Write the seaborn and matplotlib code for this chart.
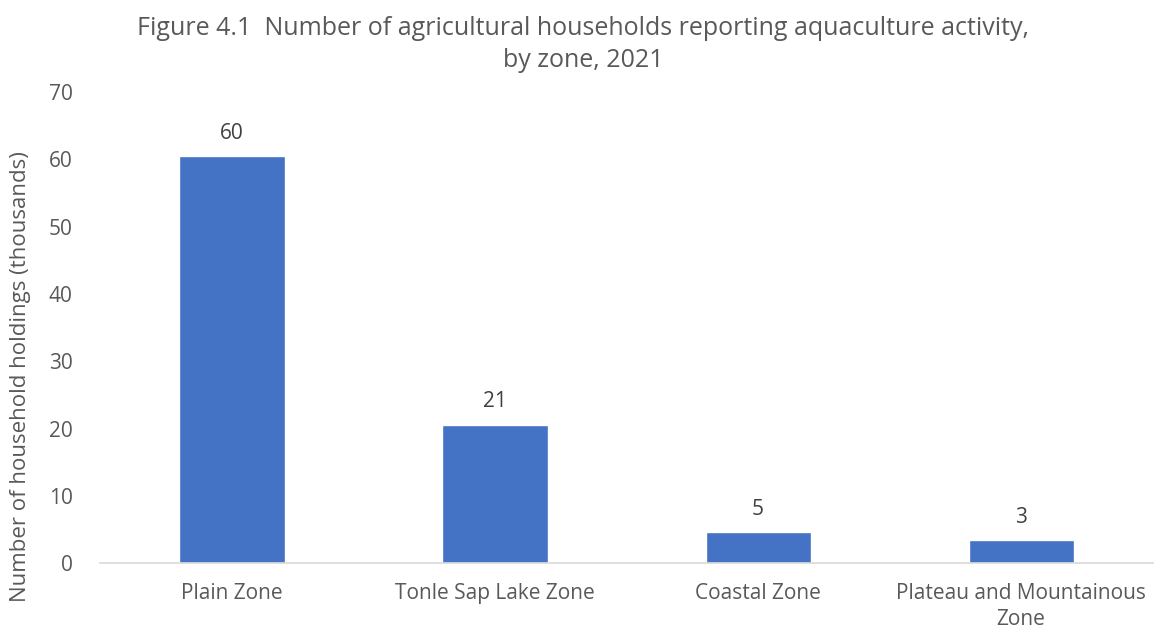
import pandas as pd
import numpy as np
import matplotlib.pyplot as plt
import seaborn as sns

sns.set_style('white')
plt.rcParams['font.family'] = ['Open Sans', 'DejaVu Sans']

# data (thousands of households)
zones = ['Plain Zone', 'Tonle Sap Lake Zone', 'Coastal Zone', 'Plateau and Mountainous\nZone']
households = [60.5, 20.6, 4.6, 3.4]

df = pd.DataFrame({'zone': zones, 'households': households})

grey = '#595959'
fig = plt.figure(figsize=(11.55, 6.35), dpi=100)
ax = fig.add_axes([0.087, 0.113, 0.911, 0.742])

sns.barplot(data=df, x='zone', y='households', color='#4472C4', width=0.4,
            saturation=1, ax=ax)

for c in ax.containers:
    ax.bar_label(c, labels=[f"{v:.0f}" for v in households], padding=9,
                 fontsize=15, color='#404040')

ax.set_ylim(0, 70)
ax.set_yticks(range(0, 71, 10))
ax.set_xlabel('')
ax.set_ylabel('Number of household holdings (thousands)', fontsize=16, color=grey)
ax.yaxis.set_label_coords(-0.066, 0.397)
ax.tick_params(axis='both', labelsize=15, colors=grey, length=0)
ax.tick_params(axis='x', pad=14)
ax.tick_params(axis='y', pad=20)
for t in ax.get_xticklabels():
    t.set_linespacing(1.35)

for s in ['top', 'right', 'left']:
    ax.spines[s].set_visible(False)
ax.spines['bottom'].set_color('#D9D9D9')
ax.spines['bottom'].set_linewidth(1.2)

fig.text(0.505, 0.975, 'Figure 4.1  Number of agricultural households reporting aquaculture activity,\nby zone, 2021',
         ha='center', va='top', fontsize=18, color=grey, linespacing=1.35)

plt.savefig('out.png', dpi=100)
